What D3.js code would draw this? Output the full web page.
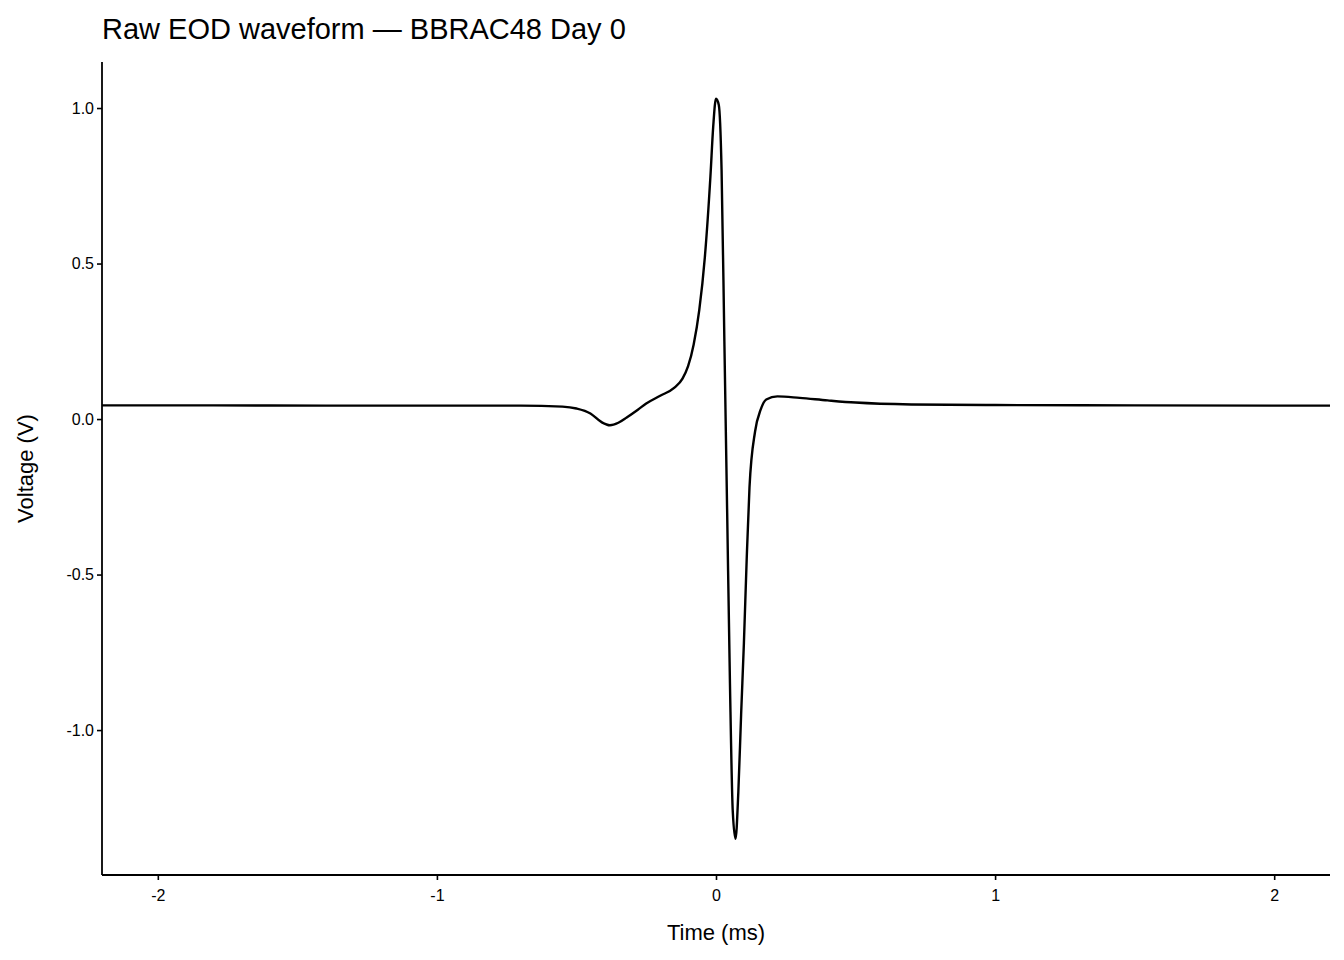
<!DOCTYPE html>
<html><head><meta charset="utf-8">
<script src="https://cdn.jsdelivr.net/npm/d3@7"></script>
<style>body{margin:0;background:#fff}text{font-family:"Liberation Sans",Arial,sans-serif}</style>
</head><body><svg id="c" width="1344" height="960"></svg>
<script>
const timeMs = [-2.2,-1.8,-1.4,-1.0,-0.7,-0.55,-0.5,-0.45,-0.41,-0.38,-0.35,-0.32,-0.28,-0.25,-0.2,-0.15,-0.12,-0.1,-0.08,-0.06,-0.04,-0.02,-0.01,0,0.01,0.02,0.03,0.04,0.05,0.06,0.07,0.08,0.09,0.1,0.11,0.12,0.14,0.16,0.18,0.22,0.3,0.4,0.5,0.7,1.0,1.5,2.0,2.2];
const voltage = [0.044,0.044,0.043,0.043,0.043,0.04,0.034,0.018,-0.01,-0.02,-0.012,0.005,0.03,0.05,0.075,0.10,0.13,0.17,0.24,0.35,0.52,0.78,0.94,1.03,1.01,0.80,0.25,-0.3,-0.85,-1.26,-1.35,-1.2,-0.95,-0.72,-0.45,-0.22,-0.04,0.03,0.063,0.073,0.068,0.06,0.053,0.047,0.045,0.044,0.043,0.043];
const xTicks = [-2,-1,0,1,2];
const yTicks = [-1.0,-0.5,0.0,0.5,1.0];

const svg = d3.select("#c");
const L=102,R=1330,T=62,B=875;
const x = d3.scaleLinear().domain([-2.2,2.2]).range([L,R]);
const y = d3.scaleLinear().domain([-1.466,1.148]).range([B,T]);
const hy = v => String(v).replace("\u2212","-");

const xa = svg.append("g").attr("transform",`translate(0,${B})`)
  .call(d3.axisBottom(x).tickValues(xTicks).tickFormat(d=>hy(d3.format("d")(d))).tickSizeOuter(0).tickSize(5));
const ya = svg.append("g").attr("transform",`translate(${L},0)`)
  .call(d3.axisLeft(y).tickValues(yTicks).tickFormat(d=>hy(d3.format(".1f")(d))).tickSizeOuter(0).tickSize(5));
[xa,ya].forEach(a=>{a.attr("font-size",null).attr("font-family",null);
  a.select(".domain").remove();
  a.selectAll("line").attr("stroke","#000").attr("stroke-width",1.6);
  a.selectAll("text").style("font-size","16px").attr("fill","#000");});
xa.selectAll("text").attr("dy","1.15em");
svg.append("line").attr("x1",L).attr("x2",R).attr("y1",B).attr("y2",B).attr("stroke","#000").attr("stroke-width",1.8);
svg.append("line").attr("x1",L).attr("x2",L).attr("y1",T).attr("y2",B).attr("stroke","#000").attr("stroke-width",1.8);

svg.append("path").datum(timeMs.map((t,i)=>[t,voltage[i]]))
  .attr("d",d3.line().x(d=>x(d[0])).y(d=>y(d[1])).curve(d3.curveMonotoneX))
  .attr("fill","none").attr("stroke","#000").attr("stroke-width",2.4);

svg.append("text").attr("x",102).attr("y",39).style("font-size","29px").text("Raw EOD waveform — BBRAC48 Day 0");
svg.append("text").attr("x",(L+R)/2).attr("y",940).attr("text-anchor","middle").style("font-size","22px").text("Time (ms)");
svg.append("text").attr("transform",`translate(33,${(T+B)/2}) rotate(-90)`).attr("text-anchor","middle").style("font-size","22px").text("Voltage (V)");
</script></body></html>
